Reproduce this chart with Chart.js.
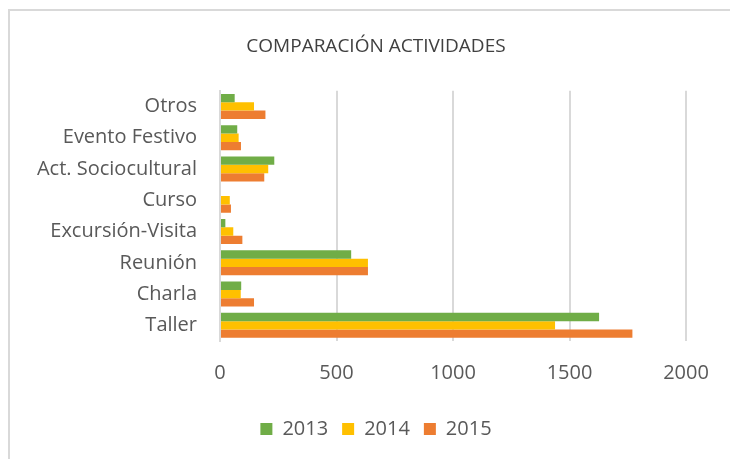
<!DOCTYPE html>
<html lang="es">
<head>
    <meta charset="UTF-8">
    <title>Comparación Actividades</title>
    <script src="https://cdn.jsdelivr.net/npm/chart.js"></script>
    <style>
        body {
            margin: 0;
            background: #fff;
        }
        .frame {
            position: absolute;
            left: 8px;
            top: 9px;
            width: 740px;
            height: 470px;
            border-top: 2px solid #d9d9d9;
            border-left: 2px solid #d9d9d9;
        }
        .chart-wrapper {
            position: absolute;
            left: 0;
            top: 0;
            width: 730px;
            height: 459px;
        }
    </style>
</head>
<body>
<div class="frame"></div>
<div class="chart-wrapper">
    <canvas id="myChart"></canvas>
</div>

<script>
    const categorias = ["Otros", "Evento Festivo", "Act. Sociocultural", "Curso", "Excursión-Visita", "Reunión", "Charla", "Taller"];
    const anios = ["2013", "2014", "2015"];
    const valores2013 = [63, 74, 233, 0, 23, 563, 91, 1627];
    const valores2014 = [146, 80, 207, 42, 57, 635, 89, 1438];
    const valores2015 = [195, 90, 190, 47, 96, 635, 146, 1770];
    const ticksX = [0, 500, 1000, 1500, 2000];

    const colores = ['#70AD47', '#FFC000', '#ED7D31'];
    const fuente = '"Open Sans", sans-serif';

    const datasets = [valores2013, valores2014, valores2015].map((serie, i) => ({
        label: anios[i],
        data: serie,
        backgroundColor: colores[i],
        borderWidth: 0,
        categoryPercentage: 0.8,
        barPercentage: 1.0
    }));

    new Chart(document.getElementById('myChart'), {
        type: 'bar',
        data: { labels: categorias, datasets: datasets },
        options: {
            indexAxis: 'y',
            responsive: true,
            maintainAspectRatio: false,
            animation: false,
            layout: { padding: { left: 22, right: 0, top: 0, bottom: 10 } },
            scales: {
                x: {
                    min: 0,
                    max: 2000,
                    afterBuildTicks: axis => { axis.ticks = ticksX.map(v => ({ value: v })); },
                    // keep the plot area ending at x = 686
                    afterFit: scale => { scale.paddingRight = 44; },
                    grid: { color: '#d9d9d9', lineWidth: 2, drawTicks: false },
                    border: { display: false },
                    ticks: {
                        padding: 20,
                        color: '#595959',
                        font: { family: fuente, size: 20 },
                        callback: v => String(v)
                    }
                },
                y: {
                    afterFit: scale => { scale.width = 198; },
                    grid: { display: false },
                    border: { display: true, color: '#d9d9d9', width: 2 },
                    ticks: { padding: 15, color: '#595959', font: { family: fuente, size: 20 } }
                }
            },
            plugins: {
                title: {
                    display: true,
                    text: 'COMPARACIÓN ACTIVIDADES',
                    color: '#404040',
                    font: { family: fuente, size: 19, weight: 'normal' },
                    padding: { top: 35, bottom: 33 }
                },
                legend: {
                    position: 'bottom',
                    labels: {
                        color: '#595959',
                        font: { family: fuente, size: 20 },
                        boxWidth: 12,
                        boxHeight: 12,
                        padding: 14
                    }
                },
                tooltip: { enabled: false }
            }
        }
    });
</script>
</body>
</html>
